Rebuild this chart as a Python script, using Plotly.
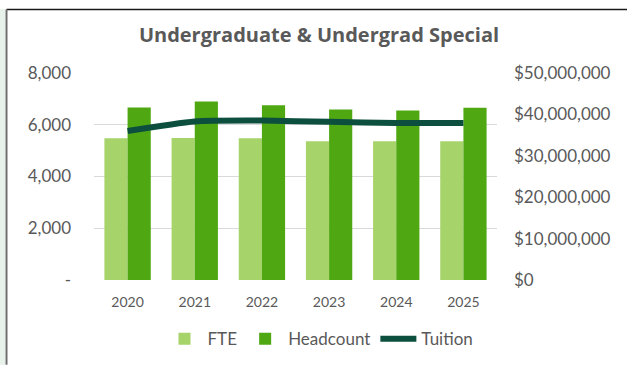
import plotly.graph_objects as go

# Enrollment and tuition by year
years = ["2020", "2021", "2022", "2023", "2024", "2025"]
fte = [5480, 5490, 5480, 5360, 5360, 5360]
headcount = [6670, 6900, 6750, 6590, 6550, 6660]
tuition = [36000000, 38300000, 38500000, 38200000, 37900000, 37900000]

left_ticks = [0, 2000, 4000, 6000, 8000]
left_labels = ["-", "2,000", "4,000", "6,000", "8,000"]
right_ticks = [0, 10000000, 20000000, 30000000, 40000000, 50000000]
right_labels = ["$0", "$10,000,000", "$20,000,000", "$30,000,000", "$40,000,000", "$50,000,000"]

W, H = 627, 369
ML, MR, MT, MB = 94, 130, 73, 86
PW, PH = W - ML - MR, H - MT - MB


def px_x(px):
    return (px - ML) / PW


def px_y(py):
    return (H - MB - py) / PH


FONT = "Lato"
GREY = "#595959"

fig = go.Figure()
fig.add_trace(go.Bar(x=years, y=fte, name="FTE", marker=dict(color="#A6D46A", line=dict(width=0))))
fig.add_trace(go.Bar(x=years, y=headcount, name="Headcount", marker=dict(color="#4FA812", line=dict(width=0))))
fig.add_trace(go.Scatter(
    x=years, y=tuition, name="Tuition", yaxis="y2", mode="lines",
    line=dict(color="#0C4F3E", width=6, shape="spline", smoothing=0.6),
))

fig.update_layout(
    width=W, height=H,
    margin=dict(l=ML, r=MR, t=MT, b=MB),
    paper_bgcolor="white", plot_bgcolor="white",
    barmode="group", bargap=0.31, bargroupgap=0,
    font=dict(family=FONT, color=GREY, size=17),
    title=dict(
        text="<b>Undergraduate &amp; Undergrad Special</b>",
        x=319 / W, xanchor="center",
        y=1 - 35 / H, yanchor="middle",
        font=dict(family="Open Sans", size=20, color=GREY),
    ),
    xaxis=dict(
        showgrid=False, showline=False, ticks="",
        tickfont=dict(size=14, color=GREY), ticklabelstandoff=12,
    ),
    yaxis=dict(
        range=[0, 8000], tickvals=left_ticks, ticktext=left_labels,
        showgrid=True, gridcolor="#D9D9D9", gridwidth=1, zeroline=False,
        showline=False, ticks="", ticklabelstandoff=22,
        tickfont=dict(size=17, color=GREY),
    ),
    yaxis2=dict(
        range=[0, 50000000], tickvals=right_ticks, ticktext=right_labels,
        overlaying="y", side="right", showgrid=False, zeroline=False,
        showline=False, ticks="", ticklabelstandoff=16,
        tickfont=dict(size=17, color=GREY),
    ),
    legend=dict(
        orientation="h", x=px_x(320), xanchor="center",
        y=px_y(343), yanchor="middle",
        font=dict(size=17, color=GREY), itemwidth=36,
        bgcolor="rgba(0,0,0,0)",
    ),
    shapes=[
        dict(type="rect", xref="paper", yref="paper",
             x0=px_x(0), x1=px_x(5), y0=px_y(369), y1=px_y(8),
             fillcolor="#E6F2EA", line=dict(width=0), layer="below"),
        dict(type="line", xref="paper", yref="paper",
             x0=px_x(6.5), x1=px_x(627), y0=px_y(8.5), y1=px_y(8.5),
             line=dict(color="#1A1A1A", width=1.5)),
        dict(type="line", xref="paper", yref="paper",
             x0=px_x(6.5), x1=px_x(6.5), y0=px_y(8.5), y1=px_y(369),
             line=dict(color="#6E6E6E", width=2)),
    ],
)

fig.write_html("out.html")
